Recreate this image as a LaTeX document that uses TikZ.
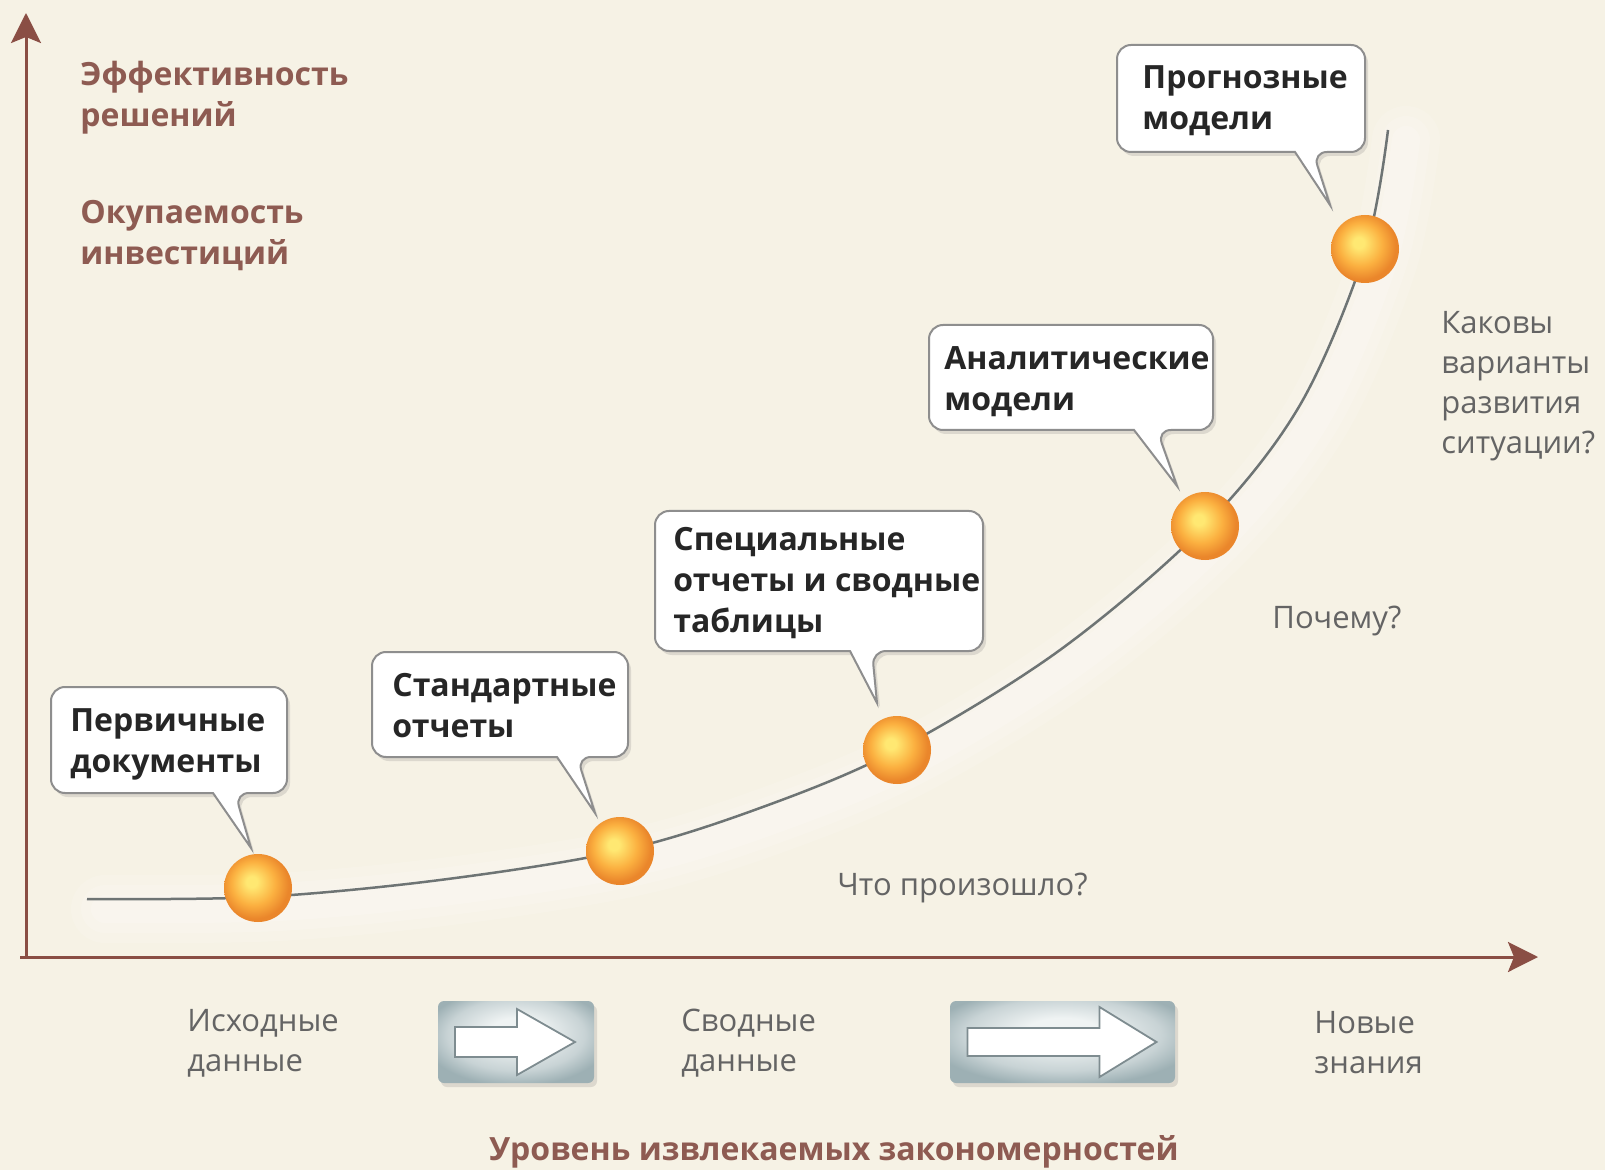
\documentclass[tikz,border=0pt]{standalone}
\usepackage{fontspec}
\setmainfont{Open Sans}
\usetikzlibrary{arrows.meta,shadows,calc}

\definecolor{paper}{HTML}{F6F2E5}
\definecolor{axisbrown}{HTML}{8A4E44}
\definecolor{labelbrown}{HTML}{8E5B52}
\definecolor{curvegray}{HTML}{6E7474}
\definecolor{boxline}{HTML}{8E8E8E}
\definecolor{inktext}{HTML}{262626}
\definecolor{softtext}{HTML}{646464}
\definecolor{orbcore}{HTML}{FFE872}
\definecolor{orbmid}{HTML}{FBB040}
\definecolor{orbedge}{HTML}{EA862B}
\definecolor{steelhi}{HTML}{EFF3F3}
\definecolor{steelmid}{HTML}{C8D3D5}
\definecolor{steellow}{HTML}{9DB0B4}
\definecolor{arrowline}{HTML}{7E8C90}

% glossy orange sphere and brushed-steel plate
\pgfdeclareradialshading{orb}{\pgfqpoint{-5bp}{5bp}}{color(0bp)=(orbcore); color(4bp)=(orbcore); color(16bp)=(orbmid); color(25bp)=(orbedge); color(50bp)=(orbedge)}
\pgfdeclareradialshading{steel}{\pgfqpoint{0bp}{8bp}}{color(0bp)=(steelhi); color(8bp)=(steelhi); color(22bp)=(steelmid); color(30bp)=(steellow); color(50bp)=(steellow)}

\tikzset{
  axisline/.style={draw=axisbrown, line width=1.5pt, -{Stealth[length=15pt,width=15pt,inset=3pt]}},
  curveline/.style={draw=curvegray, line width=1.25pt},
  glow/.style={draw=white, line cap=round},
  boxframe/.style={rectangle, inner sep=0pt, outer sep=0pt},
  callout/.style={draw=boxline, line width=1pt, fill=white, rounded corners=7pt,
    drop shadow={opacity=0.22, shadow xshift=1.5pt, shadow yshift=-2pt}},
  calltext/.style={font=\bfseries\fontsize{16}{20.5}\selectfont, text=inktext, align=left, inner sep=0pt},
  axislabel/.style={font=\bfseries\fontsize{16}{20.5}\selectfont, text=labelbrown, align=left, inner sep=0pt},
  softlabel/.style={font=\fontsize{15.5}{20}\selectfont, text=softtext, align=left, inner sep=0pt},
  orbnode/.style={circle, minimum size=34pt, inner sep=0pt, shading=orb},
  plate/.style={rectangle, rounded corners=3pt, inner sep=0pt, shading=steel,
    drop shadow={opacity=0.22, shadow xshift=1.5pt, shadow yshift=-2pt}},
  whitearrow/.style={draw=arrowline, line width=0.9pt, fill=white, line join=miter},
}

\begin{document}
\begin{tikzpicture}[x=0.5pt,y=-0.5pt]
\useasboundingbox (0,0) rectangle (1605,1170);
\fill[paper] (0,0) rectangle (1605,1170);

% soft light band along the growth curve
\begin{scope}[shift={(18,10)}]
\foreach \w/\o in {34/0.12, 24/0.14, 14/0.18}{
  \draw[glow, line width=\w pt, opacity=\o] plot[smooth, tension=0.55] coordinates
    {(87,899) (260,897) (440,880) (620,851) (760,808) (897,750) (1060,650) (1205,526) (1300,405) (1365,252) (1388,130)};
}
\end{scope}

% axes
\coordinate (origin) at (26,957);
\coordinate (xstart) at (20,957);
\coordinate (xend) at (1538,957);
\coordinate (yend) at (26,13);
\draw[axisline] (xstart) -- (xend);
\draw[axisline] (origin) -- (yend);

% growth curve
\draw[curveline] plot[smooth, tension=0.55] coordinates
  {(87,899) (260,897) (440,880) (620,851) (760,808) (897,750) (1060,650) (1205,526) (1300,405) (1365,252) (1388,130)};

% callout frames
\node[boxframe, minimum width=118pt, minimum height=53pt] (c1) at (169,740) {};
\node[boxframe, minimum width=128pt, minimum height=52.5pt] (c2) at (500,704.5) {};
\node[boxframe, minimum width=164pt, minimum height=70pt] (c3) at (819,581) {};
\node[boxframe, minimum width=142pt, minimum height=52.5pt] (c4) at (1071,377.5) {};
\node[boxframe, minimum width=124pt, minimum height=53.5pt] (c5) at (1241,98.5) {};

\coordinate (t1) at (251,848);
\coordinate (t2) at (595,813);
\coordinate (t3) at (877,703);
\coordinate (t4) at (1177,486);
\coordinate (t5) at (1330,205);

\draw[callout] (c1.north) -- (c1.north east) -- (c1.south east) -- ($(c1.south west)+(184,0)$) [sharp corners] -- (t1) -- ($(c1.south west)+(162,0)$) [rounded corners=7pt] -- (c1.south west) -- (c1.north west) -- cycle;
\draw[callout] (c2.north) -- (c2.north east) -- (c2.south east) -- ($(c2.south west)+(205,0)$) [sharp corners] -- (t2) -- ($(c2.south west)+(185,0)$) [rounded corners=7pt] -- (c2.south west) -- (c2.north west) -- cycle;
\draw[callout] (c3.north) -- (c3.north east) -- (c3.south east) -- ($(c3.south west)+(217,0)$) [sharp corners] -- (t3) -- ($(c3.south west)+(195,0)$) [rounded corners=7pt] -- (c3.south west) -- (c3.north west) -- cycle;
\draw[callout] (c4.north) -- (c4.north east) -- (c4.south east) -- ($(c4.south west)+(228,0)$) [sharp corners] -- (t4) -- ($(c4.south west)+(205,0)$) [rounded corners=7pt] -- (c4.south west) -- (c4.north west) -- cycle;
\draw[callout] (c5.north) -- (c5.north east) -- (c5.south east) -- ($(c5.south west)+(196,0)$) [sharp corners] -- (t5) -- ($(c5.south west)+(178,0)$) [rounded corners=7pt] -- (c5.south west) -- (c5.north west) -- cycle;

\node[calltext, anchor=west] (c1txt) at ($(c1.west)+(19,4)$) {Первичные\\документы};
\node[calltext, anchor=west] (c2txt) at ($(c2.west)+(20,1)$) {Стандартные\\отчеты};
\node[calltext, anchor=west] (c3txt) at ($(c3.west)+(18,2)$) {Специальные\\отчеты и сводные\\таблицы};
\node[calltext, anchor=west] (c4txt) at ($(c4.west)+(15,4)$) {Аналитические\\модели};
\node[calltext, anchor=west] (c5txt) at ($(c5.west)+(25,2)$) {Прогнозные\\модели};

% spheres on the curve
\node[orbnode] (o1) at (258,888) {};
\node[orbnode] (o2) at (620,851) {};
\node[orbnode] (o3) at (897,750) {};
\node[orbnode] (o4) at (1205,526) {};
\node[orbnode] (o5) at (1365,249) {};

% axis captions
\node[axislabel, anchor=west] (yl1) at (80,98) {Эффективность\\решений};
\node[axislabel, anchor=west] (yl2) at (80,236) {Окупаемость\\инвестиций};
\node[axislabel, anchor=center] (xl) at (834,1152) {Уровень извлекаемых закономерностей};

% questions
\node[softlabel, anchor=west] (q1) at (1441,386) {Каковы\\варианты\\развития\\ситуации?};
\node[softlabel, anchor=west] (q2) at (1272,621) {Почему?};
\node[softlabel, anchor=west] (q3) at (837,888) {Что произошло?};

% data stages
\node[softlabel, anchor=west] (d1) at (187,1043) {Исходные\\данные};
\node[softlabel, anchor=west] (d2) at (681,1043) {Сводные\\данные};
\node[softlabel, anchor=west] (d3) at (1314,1043) {Новые\\знания};

% steel plates with white arrows
\node[plate, minimum width=78pt, minimum height=41pt] (p1) at (516,1042) {};
\node[plate, minimum width=112.5pt, minimum height=41pt] (p2) at (1062.5,1042) {};

\draw[whitearrow] ([shift={(-61,-15)}]p1.center) -- ([shift={(1,-15)}]p1.center) -- ([shift={(1,-33)}]p1.center)
  -- ([shift={(59,0)}]p1.center) -- ([shift={(1,33)}]p1.center) -- ([shift={(1,15)}]p1.center)
  -- ([shift={(-61,15)}]p1.center) -- cycle;
\draw[whitearrow] ([shift={(-95,-14)}]p2.center) -- ([shift={(37,-14)}]p2.center) -- ([shift={(37,-35)}]p2.center)
  -- ([shift={(94,0)}]p2.center) -- ([shift={(37,35)}]p2.center) -- ([shift={(37,14)}]p2.center)
  -- ([shift={(-95,14)}]p2.center) -- cycle;
\end{tikzpicture}
\end{document}
